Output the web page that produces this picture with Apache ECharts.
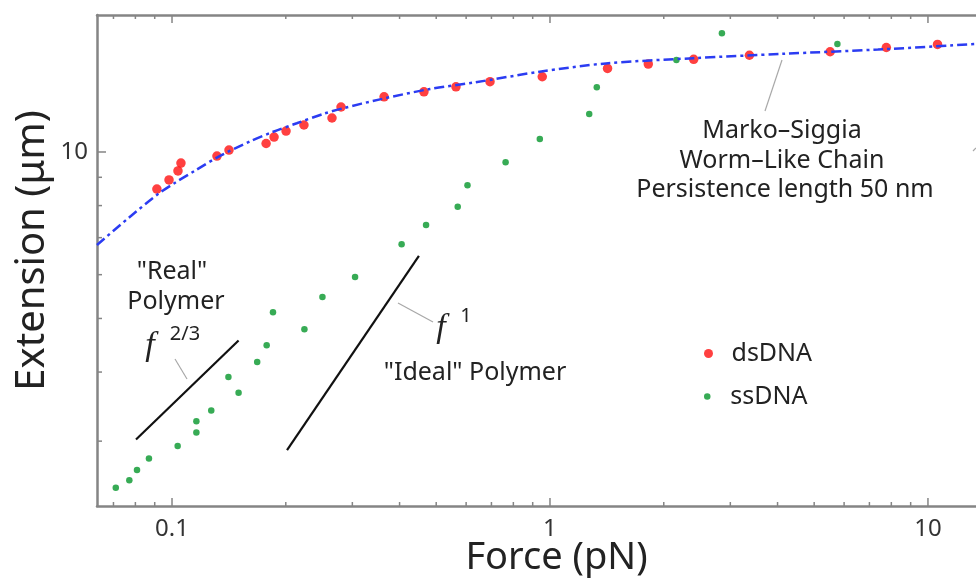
<!DOCTYPE html>
<html lang="en">
<head>
<meta charset="UTF-8">
<title>Force vs extension</title>
<script src="https://cdn.jsdelivr.net/npm/echarts@6/dist/echarts.min.js"></script>
<style>
    html, body { margin: 0; padding: 0; background: #fff; }
    #chart { width: 976px; height: 581px; }
</style>
</head>
<body>
<div id="chart"></div>
<script>
    // dsDNA points (force pN, extension um)
    var dsForce = [0.0912, 0.0982, 0.1037, 0.1056, 0.1315, 0.1415, 0.1774, 0.1862, 0.2003, 0.2234, 0.265, 0.280,
                   0.364, 0.464, 0.564, 0.694, 0.954, 1.42, 1.82, 2.40, 3.37, 5.51, 7.76, 10.6];
    var dsExt   = [8.57, 8.90, 9.24, 9.55, 9.83, 10.08, 10.36, 10.64, 10.91, 11.19, 11.52, 12.06,
                   12.58, 12.85, 13.12, 13.40, 13.68, 14.16, 14.42, 14.71, 14.96, 15.18, 15.45, 15.65];

    // ssDNA points
    var ssForce = [0.0710, 0.0771, 0.0808, 0.0869, 0.1035, 0.116, 0.116, 0.127, 0.141, 0.150, 0.168, 0.178, 0.185,
                   0.224, 0.250, 0.305, 0.405, 0.470, 0.570, 0.605, 0.763, 0.94, 1.27, 1.33, 2.16, 2.85, 5.76];
    var ssExt   = [2.47, 2.55, 2.66, 2.79, 2.94, 3.11, 3.26, 3.41, 3.92, 3.67, 4.17, 4.47, 5.13,
                   4.78, 5.47, 5.94, 6.81, 7.38, 7.96, 8.71, 9.58, 10.56, 11.71, 13.09, 14.66, 16.4, 15.67];

    // Marko-Siggia WLC curve
    var wlcForce = [0.0633, 0.0766, 0.092, 0.1019, 0.115, 0.1325, 0.1608, 0.1853, 0.2138, 0.2514, 0.2838, 0.355,
                    0.4814, 0.628, 0.939, 1.406, 2.40, 4.12, 7.37, 13.4];
    var wlcExt   = [6.79, 7.59, 8.40, 8.80, 9.25, 9.80, 10.45, 10.88, 11.27, 11.72, 12.00, 12.45,
                    13.00, 13.35, 13.97, 14.46, 14.78, 15.05, 15.32, 15.68];

    // guide lines
    var realForce = [0.0803, 0.150];
    var realExt   = [3.02, 4.56];
    var idealForce = [0.2015, 0.450];
    var idealExt   = [2.89, 6.49];

    // ticks
    var xTickLabels = ['0.1', '1', '10'];
    var xMajor = [0.1, 1, 10];
    var xMinor = [0.07, 0.08, 0.09, 0.2, 0.3, 0.4, 0.5, 0.6, 0.7, 0.8, 0.9, 2, 3, 4, 5, 6, 7, 8, 9];
    var yTickLabels = ['10'];
    var yMajor = [10];
    var yMinor = [3, 4, 5, 6, 7, 8, 9];

    var xMin = 0.06332, xMax = 13.40;
    var yMin = 2.290, yMax = 17.69;

    var FONT = 'Noto Sans';
    var AXIS_GRAY = '#858585';

    function zip(a, b) {
        var out = [];
        for (var i = 0; i < a.length; i++) {
            out.push([a[i], b[i]]);
        }
        return out;
    }

    function labelOnly(list) {
        return function (v) {
            var s = String(+v.toPrecision(6));
            return list.indexOf(s) >= 0 ? s : '';
        };
    }

    var chart = echarts.init(document.getElementById('chart'));

    var option = {
        animation: false,
        backgroundColor: '#fff',
        grid: { left: 97, right: 0, top: 15, bottom: 75, outerBoundsMode: 'none', containLabel: false },
        xAxis: [
            {
                type: 'log', min: xMin, max: xMax, position: 'bottom',
                name: 'Force (pN)', nameLocation: 'middle', nameGap: 33, nameMoveOverlap: false,
                nameTextStyle: { fontFamily: FONT, fontSize: 38, color: '#222', padding: [0, 0, 0, 40] },
                axisLine: { show: true, lineStyle: { color: AXIS_GRAY, width: 2.5 } },
                axisTick: { show: false },
                splitLine: { show: false },
                axisLabel: { formatter: labelOnly(xTickLabels), fontFamily: FONT, fontSize: 24, color: '#333', margin: 11 }
            },
            {
                type: 'log', min: xMin, max: xMax, position: 'top',
                axisLine: { show: true, lineStyle: { color: AXIS_GRAY, width: 2.5 } },
                axisTick: { show: false },
                splitLine: { show: false },
                axisLabel: { show: false }
            }
        ],
        yAxis: {
            type: 'log', min: yMin, max: yMax,
            name: 'Extension (μm)', nameLocation: 'middle', nameGap: 44, nameMoveOverlap: false,
            nameTextStyle: { fontFamily: FONT, fontSize: 40, color: '#222', padding: [0, 0, 0, 20] },
            axisLine: { show: true, lineStyle: { color: AXIS_GRAY, width: 2.5 } },
            axisTick: { show: false },
            splitLine: { show: false },
            axisLabel: { formatter: labelOnly(yTickLabels), fontFamily: FONT, fontSize: 24, color: '#333', margin: 9 }
        },
        legend: [
            {
                data: ['dsDNA'], orient: 'vertical', left: 699, top: 336,
                itemWidth: 36, itemHeight: 9, icon: 'circle', selectedMode: false,
                textStyle: { fontFamily: FONT, fontSize: 25, color: '#222' }
            },
            {
                data: ['ssDNA'], orient: 'vertical', left: 699, top: 379,
                itemWidth: 36, itemHeight: 6.5, icon: 'circle', selectedMode: false,
                textStyle: { fontFamily: FONT, fontSize: 25, color: '#222' }
            }
        ],
        series: [
            {
                name: 'WLC', type: 'line', data: zip(wlcForce, wlcExt),
                showSymbol: false, smooth: 0.3, silent: true,
                lineStyle: { color: '#2b3cf2', width: 2.5, type: [10, 4, 3, 4] }
            },
            {
                name: 'real', type: 'line', data: zip(realForce, realExt),
                showSymbol: false, silent: true,
                lineStyle: { color: '#111', width: 2.2 }
            },
            {
                name: 'ideal', type: 'line', data: zip(idealForce, idealExt),
                showSymbol: false, silent: true,
                lineStyle: { color: '#111', width: 2.2 }
            },
            {
                name: 'ssDNA', type: 'scatter', data: zip(ssForce, ssExt),
                symbolSize: 6.5, itemStyle: { color: '#05962a' }
            },
            {
                name: 'dsDNA', type: 'scatter', data: zip(dsForce, dsExt),
                symbolSize: 9.5, itemStyle: { color: '#ff1010' }
            }
        ]
    };

    chart.setOption(option);

    // tick marks at decade sub-divisions, drawn through the axes' own scale
    var els = [];
    var yBottom = chart.convertToPixel({ yAxisIndex: 0 }, yMin);
    var yTop = chart.convertToPixel({ yAxisIndex: 0 }, yMax);
    var xLeft = chart.convertToPixel({ xAxisIndex: 0 }, xMin);

    function xTick(v, len) {
        var px = chart.convertToPixel({ xAxisIndex: 0 }, v);
        els.push({ type: 'line', shape: { x1: px, y1: yBottom, x2: px, y2: yBottom - len }, style: { stroke: AXIS_GRAY, lineWidth: 1.5 }, silent: true });
        els.push({ type: 'line', shape: { x1: px, y1: yTop, x2: px, y2: yTop + len }, style: { stroke: AXIS_GRAY, lineWidth: 1.5 }, silent: true });
    }
    function yTick(v, len) {
        var py = chart.convertToPixel({ yAxisIndex: 0 }, v);
        els.push({ type: 'line', shape: { x1: xLeft, y1: py, x2: xLeft + len, y2: py }, style: { stroke: AXIS_GRAY, lineWidth: 1.5 }, silent: true });
    }
    xMajor.forEach(function (v) { xTick(v, 8); });
    xMinor.forEach(function (v) { xTick(v, 4); });
    yMajor.forEach(function (v) { yTick(v, 9); });
    yMinor.forEach(function (v) { yTick(v, 5); });

    function txt(s, x, y, size, extra) {
        var t = {
            type: 'text', silent: true,
            style: { text: s, x: x, y: y, fill: '#222', font: size + 'px "' + FONT + '"', textAlign: 'center', textVerticalAlign: 'middle' }
        };
        if (extra) { for (var k in extra) t.style[k] = extra[k]; }
        return t;
    }
    function leader(x1, y1, x2, y2) {
        return { type: 'line', silent: true, shape: { x1: x1, y1: y1, x2: x2, y2: y2 }, style: { stroke: '#a8a8a8', lineWidth: 1.2 } };
    }

    // annotations
    els.push(txt('Marko\u2013Siggia', 782, 131, 25));
    els.push(txt('Worm\u2013Like Chain', 782, 161, 25));
    els.push(txt('Persistence length 50 nm', 785, 190, 25));
    els.push(leader(782, 60, 765, 111));
    els.push(leader(973, 151, 976, 148));

    els.push(txt('"Real"', 172, 272, 25));
    els.push(txt('Polymer', 176, 302, 25));
    els.push(txt('f', 150, 346, 34, { font: 'italic 34px "Liberation Serif"' }));
    els.push(txt('2/3', 185, 334, 20));
    els.push(leader(175, 359, 187, 379));

    els.push(txt('f', 441, 328, 34, { font: 'italic 34px "Liberation Serif"' }));
    els.push(txt('1', 466, 316, 20));
    els.push(leader(398, 303, 433, 322));
    els.push(txt('"Ideal" Polymer', 475, 373, 25));

    chart.setOption({ graphic: els });
</script>
</body>
</html>
